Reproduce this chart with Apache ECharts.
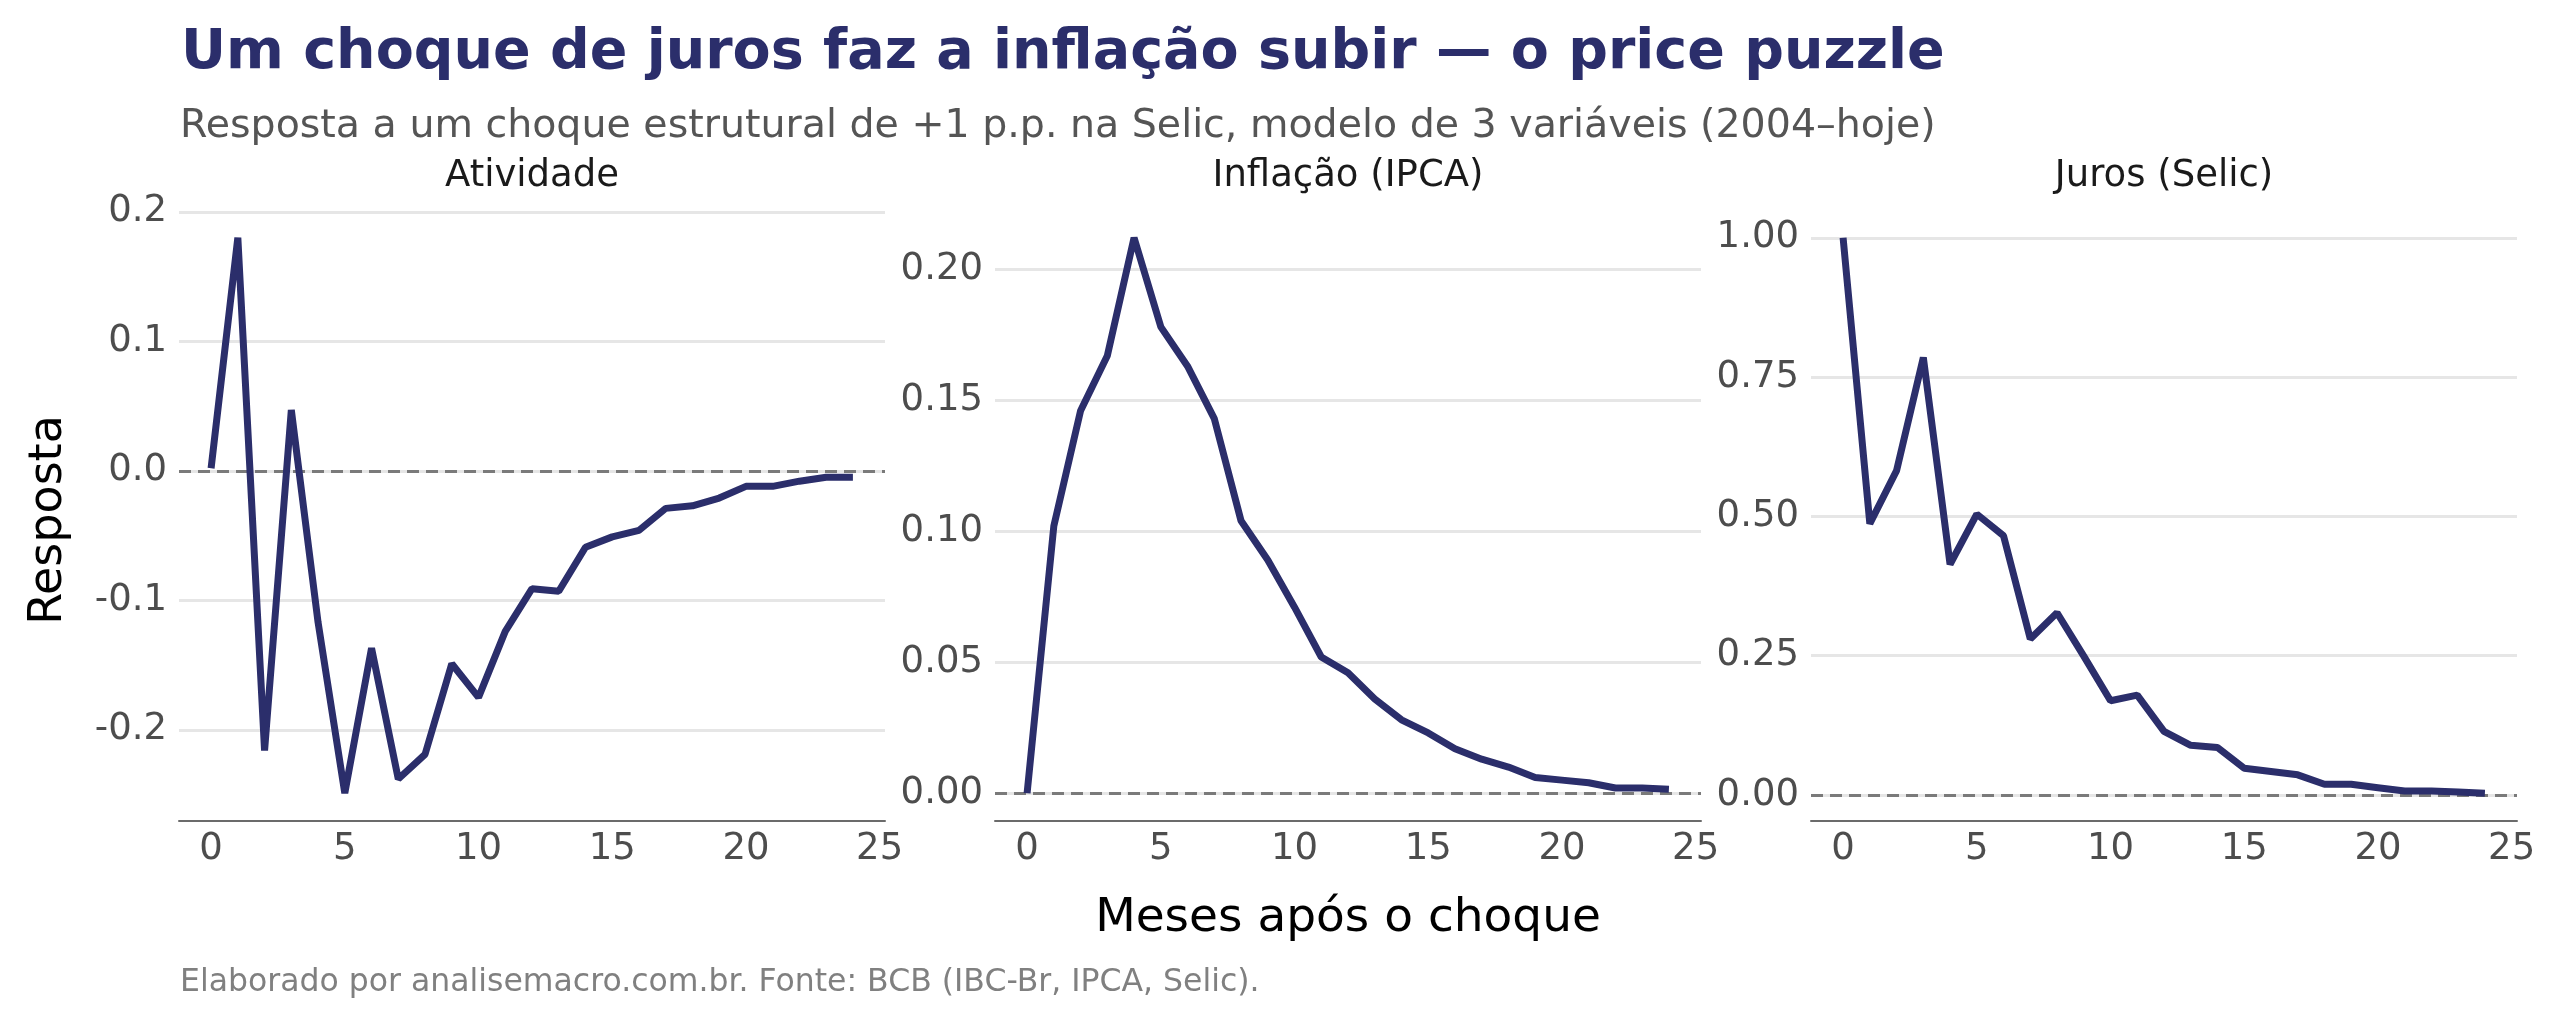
<!DOCTYPE html>
<html>
<head>
<meta charset="utf-8">
<script src="https://cdn.jsdelivr.net/npm/echarts@6/dist/echarts.min.js"></script>
<style>
  html, body { margin: 0; padding: 0; background: #fff; }
  #chart { width: 2560px; height: 1024px; }
</style>
</head>
<body>
<div id="chart"></div>
<script>
// meses após o choque
var meses = [0, 1, 2, 3, 4, 5, 6, 7, 8, 9, 10, 11, 12, 13, 14, 15, 16, 17, 18, 19, 20, 21, 22, 23, 24];

// respostas
var atividade = [0.002, 0.180, -0.216, 0.047, -0.117, -0.249, -0.137, -0.238, -0.219, -0.149, -0.175, -0.124,
                 -0.091, -0.093, -0.059, -0.051, -0.046, -0.029, -0.027, -0.021, -0.012, -0.012, -0.008, -0.005, -0.005];
var inflacao = [0.000, 0.102, 0.146, 0.167, 0.212, 0.178, 0.163, 0.143, 0.104, 0.089, 0.071, 0.052,
                0.046, 0.036, 0.028, 0.023, 0.017, 0.013, 0.010, 0.006, 0.005, 0.004, 0.002, 0.002, 0.0015];
var juros = [1.000, 0.487, 0.582, 0.785, 0.414, 0.504, 0.465, 0.280, 0.327, 0.249, 0.169, 0.179,
             0.114, 0.089, 0.085, 0.048, 0.042, 0.036, 0.019, 0.019, 0.013, 0.007, 0.007, 0.005, 0.003];

var paineis = ['Atividade', 'Inflação (IPCA)', 'Juros (Selic)'];
var ticksX = [0, 5, 10, 15, 20, 25];
var ticksAtividade = ['-0.2', '-0.1', '0.0', '0.1', '0.2'];
var ticksInflacao = ['0.00', '0.05', '0.10', '0.15', '0.20'];
var ticksJuros = ['0.00', '0.25', '0.50', '0.75', '1.00'];

var COR = '#2b2e6b';
var FONTE = '"DejaVu Sans", "Noto Sans", sans-serif';

// limites com 5% de folga, como no ggplot
function limites(valores) {
    var lo = Math.min.apply(null, valores);
    var hi = Math.max.apply(null, valores);
    var pad = (hi - lo) * 0.05;
    return [lo - pad, hi + pad];
}

var chartDom = document.getElementById('chart');
var myChart = echarts.init(chartDom, null, { renderer: 'canvas' });

var series_ = [atividade, inflacao, juros];
var ticks_ = [ticksAtividade, ticksInflacao, ticksJuros];
var esquerda = [179, 995, 1811];
var xLim = limites(meses);

var grids = [], xAxes = [], yAxes = [], series = [], graphics = [];

series_.forEach(function (vals, i) {
    var yLim = limites(vals);
    var rotulos = ticks_[i];
    var nums = rotulos.map(Number);

    grids.push({ left: esquerda[i], top: 210, width: 706, height: 611 });

    xAxes.push({
        gridIndex: i, type: 'value', min: xLim[0], max: xLim[1],
        axisLine: { show: true, onZero: false, lineStyle: { color: '#6b6b6b', width: 2 } },
        axisTick: { show: false, customValues: ticksX },
        axisLabel: { customValues: ticksX, color: '#4d4d4d', fontSize: 37, fontFamily: FONTE, margin: 10 },
        splitLine: { show: false }
    });

    yAxes.push({
        gridIndex: i, type: 'value', min: yLim[0], max: yLim[1],
        axisLine: { show: false },
        axisTick: { show: false, customValues: nums },
        axisLabel: {
            customValues: nums, color: '#4d4d4d', fontSize: 37, fontFamily: FONTE, margin: 12,
            formatter: function (v) {
                for (var k = 0; k < nums.length; k++) {
                    if (Math.abs(nums[k] - v) < 1e-9) return rotulos[k];
                }
                return '';
            }
        },
        splitLine: { show: true, lineStyle: { color: '#e6e6e6', width: 3 } }
    });

    series.push({
        name: paineis[i], type: 'line', xAxisIndex: i, yAxisIndex: i,
        data: meses.map(function (m, j) { return [m, vals[j]]; }),
        symbol: 'none', z: 3,
        lineStyle: { color: COR, width: 7 },
        markLine: {
            silent: true, symbol: 'none', label: { show: false }, z: 2,
            lineStyle: { color: '#7a7a7a', type: [12, 7], width: 3 },
            data: [{ yAxis: 0 }]
        }
    });

    graphics.push({
        type: 'text', x: esquerda[i] + 353, y: 158,
        style: { text: paineis[i], fill: '#1a1a1a', fontSize: 37, fontFamily: FONTE, align: 'center', verticalAlign: 'top' }
    });
});

graphics.push(
    { type: 'text', x: 181, y: 26,
      style: { text: 'Um choque de juros faz a inflação subir — o price puzzle', fill: COR, fontSize: 55.5, fontWeight: 'bold', fontFamily: FONTE, verticalAlign: 'top' } },
    { type: 'text', x: 180, y: 107,
      style: { text: 'Resposta a um choque estrutural de +1 p.p. na Selic, modelo de 3 variáveis (2004–hoje)', fill: '#555555', fontSize: 39.5, fontFamily: FONTE, verticalAlign: 'top' } },
    { type: 'text', x: 1348, y: 895,
      style: { text: 'Meses após o choque', fill: '#000000', fontSize: 47, fontFamily: FONTE, align: 'center', verticalAlign: 'top' } },
    { type: 'text', x: 49, y: 520, rotation: Math.PI / 2,
      style: { text: 'Resposta', fill: '#000000', fontSize: 46, fontFamily: FONTE, align: 'center', verticalAlign: 'middle' } },
    { type: 'text', x: 180, y: 967,
      style: { text: 'Elaborado por analisemacro.com.br. Fonte: BCB (IBC-Br, IPCA, Selic).', fill: '#808080', fontSize: 31.5, fontFamily: FONTE, verticalAlign: 'top' } }
);

var option = {
    backgroundColor: '#ffffff',
    animation: false,
    grid: grids,
    xAxis: xAxes,
    yAxis: yAxes,
    series: series,
    graphic: graphics
};

option && myChart.setOption(option);
</script>
</body>
</html>
